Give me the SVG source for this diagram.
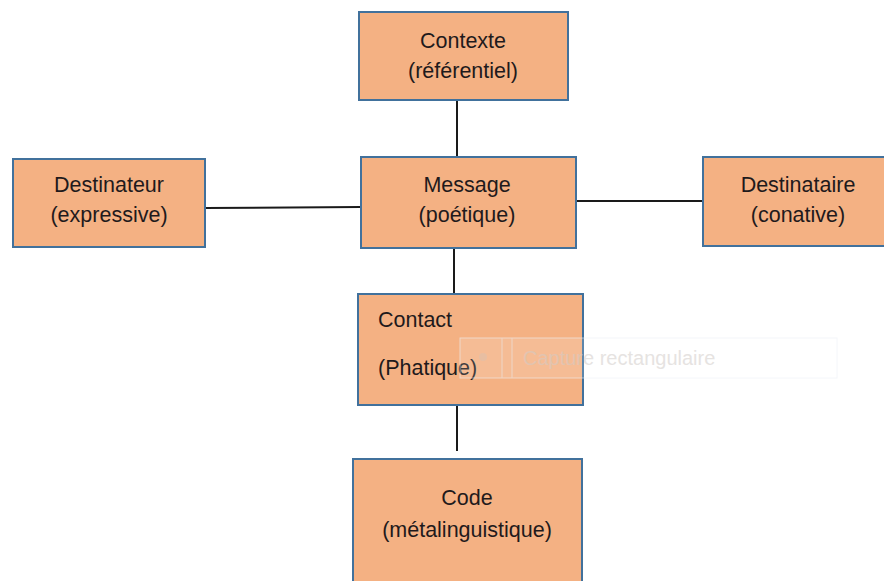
<svg xmlns="http://www.w3.org/2000/svg" width="884" height="581" viewBox="0 0 884 581">
<style>
.box{fill:#F4B183;stroke:#41719C;stroke-width:2}
.t{font-family:"Liberation Sans",Arial,sans-serif;font-size:21.5px;fill:#1f1a1c}
.c{text-anchor:middle}
.ln{stroke:#1a1a1a;stroke-width:2;fill:none}
</style>
<rect width="884" height="581" fill="#ffffff"/>
<g id="connectors">
<line class="ln" x1="457" y1="100" x2="457" y2="158"/>
<line class="ln" x1="205" y1="208" x2="361" y2="207"/>
<line class="ln" x1="576" y1="201" x2="703" y2="201"/>
<line class="ln" x1="454" y1="248" x2="454" y2="294"/>
<line class="ln" x1="457" y1="405" x2="457" y2="451"/>
</g>
<g id="contexte">
<rect class="box" x="359" y="12" width="209" height="88"/>
<text class="t c" x="463" y="48">Contexte</text>
<text class="t c" x="463" y="78">(référentiel)</text>
</g>
<g id="destinateur">
<rect class="box" x="13" y="159" width="192" height="88"/>
<text class="t c" x="109" y="192">Destinateur</text>
<text class="t c" x="109" y="222">(expressive)</text>
</g>
<g id="message">
<rect class="box" x="361" y="157" width="215" height="91"/>
<text class="t c" x="467" y="192">Message</text>
<text class="t c" x="467" y="222">(poétique)</text>
</g>
<g id="destinataire">
<rect class="box" x="703" y="157" width="185" height="89"/>
<text class="t c" x="798" y="192">Destinataire</text>
<text class="t c" x="798" y="222">(conative)</text>
</g>
<g id="contact">
<rect class="box" x="358" y="294" width="225" height="111"/>
<text class="t" x="378" y="327">Contact</text>
<text class="t" x="378" y="375">(Phatique)</text>
</g>
<g id="code">
<rect class="box" x="353" y="459" width="229" height="130"/>
<text class="t c" x="467" y="505">Code</text>
<text class="t c" x="467" y="537">(métalinguistique)</text>
</g>
<g id="overlay" opacity="0.6">
<rect x="460" y="338" width="377" height="40" fill="#ffffff" fill-opacity="0.25" stroke="#eef2f8" stroke-width="1"/>
<line x1="502" y1="338" x2="502" y2="378" stroke="#eaeef4" stroke-width="1"/>
<line x1="512" y1="338" x2="512" y2="378" stroke="#eaeef4" stroke-width="1"/>
<circle cx="483" cy="357" r="4" fill="#e0c8b8"/>
<text x="523" y="365" font-family="'Liberation Sans',Arial,sans-serif" font-size="20" fill="#d6d1ce">Capture rectangulaire</text>
</g>
</svg>
